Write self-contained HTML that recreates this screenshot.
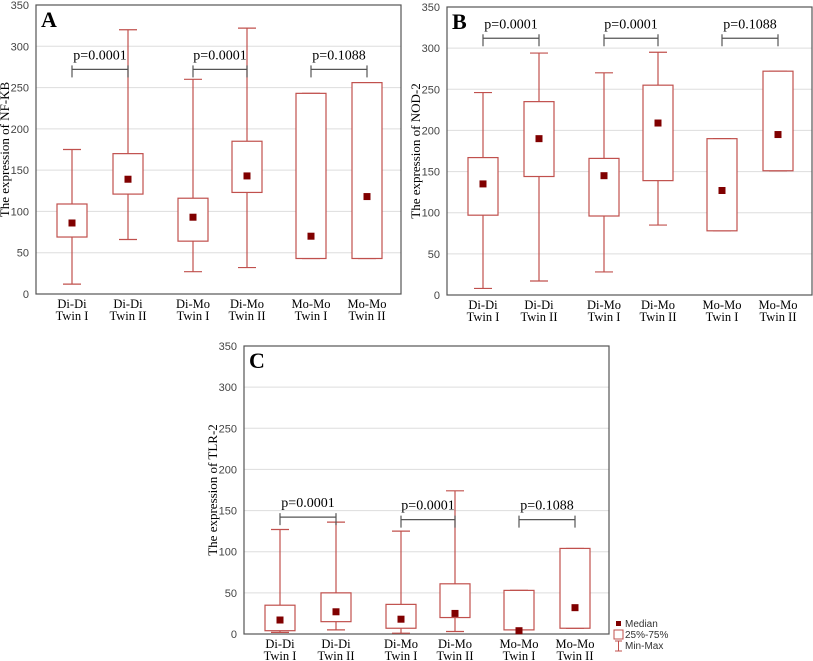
<!DOCTYPE html>
<html><head><meta charset="utf-8"><style>
body{margin:0;background:#fff;width:813px;height:661px;overflow:hidden}
svg{position:absolute;left:0;top:0}
</style></head><body>
<svg id="chart" width="813" height="661"></svg>
<script>
const categories=[["Di-Di","Twin I"],["Di-Di","Twin II"],["Di-Mo","Twin I"],["Di-Mo","Twin II"],["Mo-Mo","Twin I"],["Mo-Mo","Twin II"]];
const ticks=[0,50,100,150,200,250,300,350];
const pLabels=["p=0.0001","p=0.0001","p=0.1088"];
// [min,q1,median,q3,max]
const seriesA=[[12,69,86,109,175],[66,121,139,170,320],[27,64,93,116,260],[32,123,143,185,322],[43,43,70,243,243],[43,43,118,256,256]];
const seriesB=[[8,97,135,167,246],[17,144,190,235,294],[28,96,145,166,270],[85,139,209,255,295],[78,78,127,190,190],[151,151,195,272,272]];
const seriesC=[[2,4,17,35,127],[5,15,27,50,136],[1,7,18,36,125],[3,20,25,61,174],[5,5,4,53,53],[7,7,32,104,104]];
const bracketA=[272,272,272];const bracketB=[312,312,312];const bracketC=[142,139,139];
const NS="http://www.w3.org/2000/svg";
const svg=document.getElementById('chart');
function mk(t,a,p){const e=document.createElementNS(NS,t);for(const k in a)e.setAttribute(k,a[k]);(p||svg).appendChild(e);return e;}
const offs=[36,92,157,211,275,331];
function panel(name,letter,ylab,L,T,B,series,bracket){
  const W=365;const y=v=>B-v/350*(B-T);
  const g=mk('g',{});
  
  
  ticks.forEach(t=>{
    if(t>0&&t<350){const gl=mk('line',{x1:L,x2:L+W,y1:y(t),y2:y(t),stroke:'#ddd','stroke-width':1},g);
    }
    const tx=mk('text',{x:L-7,y:y(t)+4,'text-anchor':'end','font-family':'Liberation Sans, sans-serif','font-size':11,fill:'#444'},g);
    tx.textContent=t;
    
  });
  const fr=mk('rect',{x:L,y:T,width:W,height:B-T,fill:'none',stroke:'#555','stroke-width':1.2},g);
  
  const lt=mk('text',{x:L+5,y:T+22,'font-family':'Liberation Serif, serif','font-size':22,'font-weight':'bold'},g);
  lt.textContent=letter;
  const yl=mk('text',{transform:`translate(${L-27},${(T+B)/2}) rotate(-90)`,'text-anchor':'middle','font-family':'Liberation Serif, serif','font-size':13},g);
  yl.textContent=ylab;
  series.forEach((d,i)=>{
    const cx=L+offs[i];const c='#c0504d';
    const bg=mk('g',{},g);
    
    
    mk('line',{x1:cx,x2:cx,y1:y(d[4]),y2:y(d[0]),stroke:c,'stroke-width':1.2},bg);
    mk('line',{x1:cx-9,x2:cx+9,y1:y(d[4]),y2:y(d[4]),stroke:c,'stroke-width':1.2},bg);
    mk('line',{x1:cx-9,x2:cx+9,y1:y(d[0]),y2:y(d[0]),stroke:c,'stroke-width':1.2},bg);
    mk('rect',{x:cx-15,y:y(d[3]),width:30,height:y(d[1])-y(d[3]),fill:'#fff',stroke:c,'stroke-width':1.2},bg);
    mk('rect',{x:cx-3.5,y:y(d[2])-3.5,width:7,height:7,fill:'#800000'},bg);
    categories[i].forEach((s,j)=>{
      const t=mk('text',{x:cx,y:B+14+j*12,'text-anchor':'middle','font-family':'Liberation Serif, serif','font-size':12.5},g);
      t.textContent=s;
    });
  });
  bracket.forEach((v,k)=>{
    const x1=L+offs[2*k],x2=L+offs[2*k+1],yy=y(v);
    const bg=mk('g',{stroke:'#555','stroke-width':1.2},g);
    
    mk('line',{x1:x1,x2:x2,y1:yy,y2:yy},bg);
    mk('line',{x1:x1,x2:x1,y1:yy-4,y2:yy+8},bg);
    mk('line',{x1:x2,x2:x2,y1:yy-4,y2:yy+8},bg);
    const t=mk('text',{x:(x1+x2)/2,y:yy-10,'text-anchor':'middle','font-family':'Liberation Serif, serif','font-size':14},g);
    t.textContent=pLabels[k];
  });
}
panel('a','A','The expression of NF-KB',36,5,294,seriesA,bracketA);
panel('b','B','The expression of NOD-2',447,7,295,seriesB,bracketB);
panel('c','C','The expression of TLR-2',244,346,634,seriesC,bracketC);
// legend
const lg=mk('g',{});

mk('rect',{x:616,y:621,width:5,height:5,fill:'#800000'},lg);
mk('rect',{x:614,y:630,width:9,height:9,fill:'none',stroke:'#c0504d'},lg);
mk('line',{x1:618.5,x2:618.5,y1:641,y2:651,stroke:'#c0504d'},lg);
mk('line',{x1:615,x2:622,y1:641,y2:641,stroke:'#c0504d'},lg);
mk('line',{x1:615,x2:622,y1:651,y2:651,stroke:'#c0504d'},lg);
[["Median",627],["25%-75%",638],["Min-Max",649]].forEach(([s,yy])=>{
  const t=mk('text',{x:625,y:yy,'font-family':'Liberation Sans, sans-serif','font-size':10,fill:'#333'},lg);
  t.textContent=s;
});
</script>
</body></html>
